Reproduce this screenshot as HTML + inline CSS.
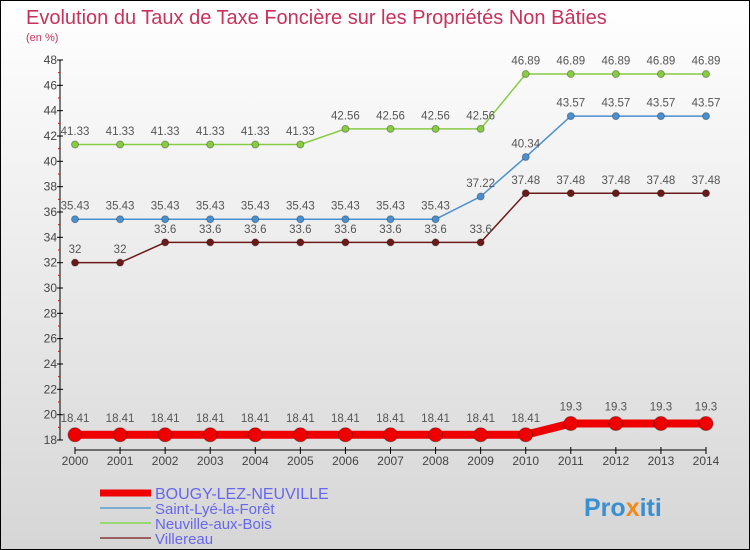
<!DOCTYPE html>
<html><head><meta charset="utf-8"><style>
html,body{margin:0;padding:0}
body{width:750px;height:550px;overflow:hidden;font-family:"Liberation Sans","DejaVu Sans",sans-serif}
svg{display:block}
</style></head><body>
<svg id="chart" width="750" height="550" xmlns="http://www.w3.org/2000/svg">
<defs><linearGradient id="bg" x1="0" y1="0" x2="0" y2="1"><stop offset="0" stop-color="#ffffff"/><stop offset="1" stop-color="#d6d6d6"/></linearGradient></defs>
<rect x="0.5" y="0.5" width="749" height="549" fill="url(#bg)" stroke="#000"/>
<text x="26" y="24" font-size="20" fill="#c8325a">Evolution du Taux de Taxe Foncière sur les Propriétés Non Bâties</text>
<text x="26" y="41" font-size="11" fill="#c8325a">(en %)</text>
<g id="axes"></g><g id="series"></g><g id="legend"></g>
<text x="584" y="516" font-size="25" font-weight="bold" fill="#3a8fd0">Pro<tspan fill="#f08a1c">x</tspan>iti</text>
</svg>
<script>
const years=[2000,2001,2002,2003,2004,2005,2006,2007,2008,2009,2010,2011,2012,2013,2014];
const bougy=[18.41,18.41,18.41,18.41,18.41,18.41,18.41,18.41,18.41,18.41,18.41,19.3,19.3,19.3,19.3];
const saintLye=[35.43,35.43,35.43,35.43,35.43,35.43,35.43,35.43,35.43,37.22,40.34,43.57,43.57,43.57,43.57];
const neuville=[41.33,41.33,41.33,41.33,41.33,41.33,42.56,42.56,42.56,42.56,46.89,46.89,46.89,46.89,46.89];
const villereau=[32,32,33.6,33.6,33.6,33.6,33.6,33.6,33.6,33.6,37.48,37.48,37.48,37.48,37.48];
const yTicks=[18,20,22,24,26,28,30,32,34,36,38,40,42,44,46,48];
const NS="http://www.w3.org/2000/svg";
const X=i=>75+i*(706-75)/(years.length-1);
const Y=v=>440-(v-18)*(380/30);
function mk(tag,attrs,parent,text){const e=document.createElementNS(NS,tag);for(const k in attrs)e.setAttribute(k,attrs[k]);if(text!==undefined)e.textContent=text;parent.appendChild(e);return e;}
const axes=document.getElementById('axes');
let a=mk('line',{x1:60,y1:Y(48),x2:60,y2:Y(18),stroke:'#000'},axes);


a=mk('line',{x1:X(0),y1:450,x2:X(years.length-1),y2:450,stroke:'#000'},axes);


yTicks.forEach(v=>{
  mk('line',{x1:57,y1:Y(v),x2:63,y2:Y(v),stroke:'#000'},axes);
  if(v<48) mk('line',{x1:58,y1:Y(v+1),x2:60,y2:Y(v+1),stroke:'#e00'},axes);
  const t=mk('text',{x:57,y:Y(v)+4,'font-size':12,'text-anchor':'end',fill:'#444'},axes,String(v));
  
  
});
years.forEach((yr,i)=>{
  mk('line',{x1:X(i),y1:447,x2:X(i),y2:454,stroke:'#000'},axes);
  const t=mk('text',{x:X(i),y:465,'font-size':12,'text-anchor':'middle',fill:'#444'},axes,String(yr));
  
  
});
const ser=document.getElementById('series');
function draw(vals,color,w,r,name){
  const g=mk('g',{},ser);
  
  
  const pl=mk('polyline',{points:vals.map((v,i)=>X(i)+','+Y(v)).join(' '),fill:'none',stroke:color,'stroke-width':w},g);
  
  
  vals.forEach((v,i)=>{
    const c=mk('circle',{cx:X(i),cy:Y(v),r:r,fill:color,stroke:'rgba(0,0,0,0.3)','stroke-width':1},g);
    
    
    const t=mk('text',{x:X(i),y:Y(v)-(r+6),'font-size':11.5,'text-anchor':'middle',fill:'#555'},g,String(v));
    
    
  });
}
draw(neuville,'#88cc44',1.5,3.5,'neuville-aux-bois');
draw(saintLye,'#4a90d0',1.5,3.5,'saint-lye-la-foret');
draw(villereau,'#6b1a1a',1.5,3.5,'villereau');
draw(bougy,'#ee0000',8,7,'bougy-lez-neuville');
const lg=document.getElementById('legend');
const legendNames=['BOUGY-LEZ-NEUVILLE','Saint-Lyé-la-Forêt','Neuville-aux-Bois','Villereau'];
const legendColors=['#ee0000','#7aaed0','#99d870','#9a6060'];
legendNames.forEach((n,i)=>{
  const y=493+i*15;
  const l=mk('line',{x1:100,y1:y,x2:151,y2:y,stroke:legendColors[i],'stroke-width':i==0?7:2},lg);
  
  
  const t=mk('text',{x:155,y:y+6,'font-size':i==0?16:15,fill:'#6666ee'},lg,n);
  
  
});
</script>
</body></html>
